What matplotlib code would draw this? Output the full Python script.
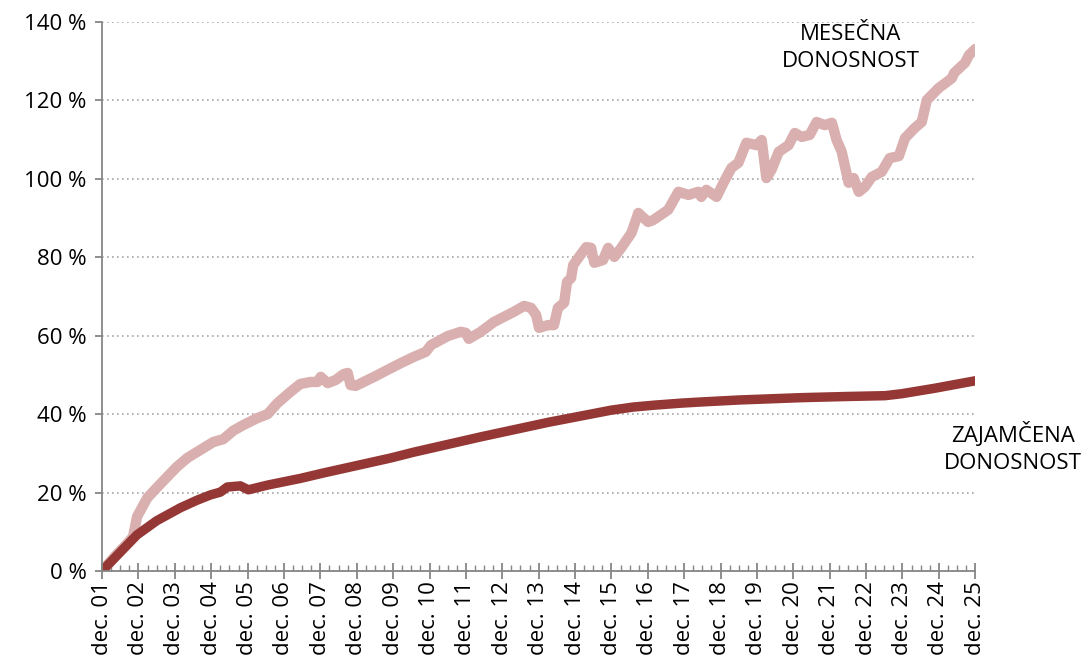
import numpy as np
import matplotlib
matplotlib.use('Agg')
import matplotlib.pyplot as plt
from matplotlib.ticker import MultipleLocator, FuncFormatter

plt.rcParams['font.family'] = ['Open Sans', 'DejaVu Sans']

# leta od dec. 01
t_mes = [0.0, 0.36, 0.69, 0.85, 0.96, 1.24, 1.50, 1.79, 2.05, 2.34, 2.62, 3.06, 3.33, 3.61, 3.88,
         4.27, 4.55, 4.82, 5.18, 5.45, 5.73, 5.92, 6.01, 6.20, 6.42, 6.64, 6.75, 6.83, 6.97,
         7.19, 7.52, 7.85, 8.21, 8.57, 8.90, 9.04, 9.50, 9.86, 10.0, 10.08, 10.41, 10.77,
         11.32, 11.60, 11.79, 11.93, 12.01, 12.26, 12.42, 12.53, 12.70, 12.78, 12.89, 12.95,
         13.11, 13.31, 13.44, 13.53, 13.77, 13.91, 14.08, 14.27, 14.55, 14.74, 15.01, 15.15,
         15.56, 15.84, 16.12, 16.39, 16.47, 16.61, 16.89, 17.08, 17.30, 17.49, 17.71, 17.99,
         18.13, 18.26, 18.40, 18.60, 18.87, 19.04, 19.23, 19.45, 19.64, 19.86, 20.06, 20.19,
         20.33, 20.52, 20.66, 20.80, 20.96, 21.16, 21.43, 21.65, 21.90, 22.07, 22.34, 22.53,
         22.67, 23.00, 23.22, 23.36, 23.42, 23.72, 23.83, 24.0]
mesecna = [0.0, 3.8, 7.0, 8.7, 13.8, 18.6, 21.2, 24.0, 26.5, 28.8, 30.4, 32.9, 33.6, 35.8, 37.2,
           39.0, 40.0, 42.8, 45.7, 47.7, 48.2, 48.2, 49.5, 47.9, 48.7, 50.2, 50.5, 47.4, 47.2,
           48.2, 49.7, 51.3, 53.0, 54.6, 55.9, 57.6, 59.9, 61.0, 60.7, 59.2, 61.0, 63.5,
           66.1, 67.6, 67.1, 65.3, 62.0, 62.7, 62.7, 67.1, 68.4, 73.7, 74.7, 78.0,
           80.1, 82.6, 82.4, 78.6, 79.3, 82.4, 80.1, 82.4, 86.2, 91.3, 89.0, 89.5,
           92.1, 96.7, 95.9, 96.7, 95.4, 97.2, 95.4, 99.0, 102.8, 104.1, 109.2, 108.6,
           109.9, 100.2, 102.3, 106.9, 108.6, 111.7, 110.7, 111.2, 114.5, 113.7, 114.3, 109.9,
           106.9, 99.0, 100.2, 96.7, 97.9, 100.5, 101.8, 105.3, 105.8, 110.4, 113.0, 114.5,
           120.1, 123.2, 124.7, 125.7, 127.0, 129.6, 131.6, 133.1]

t_zaj = [0.0, 0.5, 0.96, 1.5, 2.15, 2.6, 2.98, 3.25, 3.44, 3.80, 4.02, 4.55, 5.45, 6.09,
         7.93, 8.57, 10.41, 12.26, 13.99, 14.6, 15.2, 15.92, 16.47, 17.5, 19.23, 20.5, 21.52,
         21.98, 22.89, 24.0]
zajamcena = [0.0, 4.8, 9.2, 12.8, 16.1, 18.0, 19.4, 20.1, 21.4, 21.7, 20.7, 21.9, 23.6, 25.0,
             28.8, 30.3, 34.2, 37.9, 41.0, 41.8, 42.3, 42.8, 43.1, 43.6, 44.2, 44.5, 44.7,
             45.2, 46.6, 48.5]

labels = ['dec. %02d' % y for y in range(1, 26)]

fig = plt.figure(figsize=(10.86, 6.67), dpi=100)
ax = fig.add_axes([0.094, 0.144, 0.804, 0.823])

ax.plot(t_mes, mesecna, color='#D9B0AF', lw=7.5, solid_capstyle='round', solid_joinstyle='round')
ax.plot(t_zaj, zajamcena, color='#953735', lw=6.8, solid_capstyle='round', solid_joinstyle='round')

ax.set_xlim(0, 24)
ax.set_ylim(0, 140)
ax.yaxis.set_major_locator(MultipleLocator(20))
ax.yaxis.set_major_formatter(FuncFormatter(lambda v, p: '%d %%' % v))
ax.set_xticks(range(25))
ax.set_xticklabels(labels, rotation=90, va='top')
ax.xaxis.set_minor_locator(MultipleLocator(0.25))

ax.grid(axis='y', color='#A6A6A6', linestyle=(0, (1, 2)), lw=1.2)
ax.set_axisbelow(True)
for s in ['top', 'right']:
    ax.spines[s].set_visible(False)
for s in ['left', 'bottom']:
    ax.spines[s].set_color('#868686')
    ax.spines[s].set_linewidth(1.3)

ax.tick_params(axis='y', direction='out', length=5, width=1.3, color='#868686', labelsize=16, pad=6)
ax.tick_params(axis='x', which='major', direction='inout', length=11, width=1.3, color='#868686',
               labelsize=16, pad=2)
ax.tick_params(axis='x', which='minor', direction='in', length=4, width=1, color='#868686')

fig.text(851 / 1086, 1 - 48 / 667, 'MESEČNA\nDONOSNOST', ha='center', va='center',
         multialignment='center', fontsize=16, linespacing=1.35)
fig.text(1013 / 1086, 1 - 448 / 667, 'ZAJAMČENA\nDONOSNOST', ha='center', va='center',
         multialignment='center', fontsize=16, linespacing=1.35)

fig.savefig('out.png', dpi=100)
